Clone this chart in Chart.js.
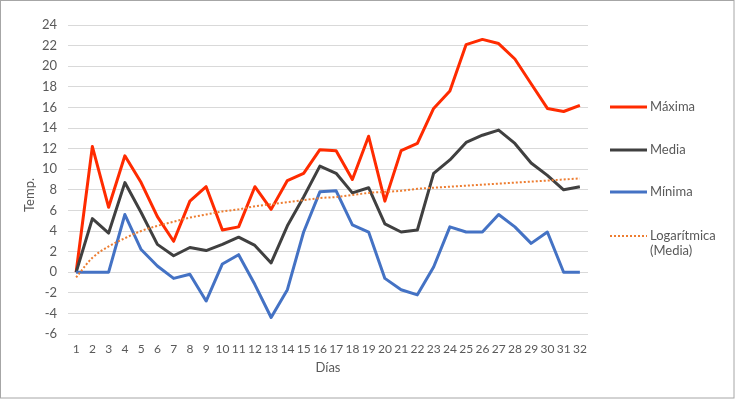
<!DOCTYPE html>
<html>
<head>
<meta charset="utf-8">
<script src="https://cdn.jsdelivr.net/npm/chart.js@4/dist/chart.umd.min.js"></script>
<style>
  html, body { margin: 0; padding: 0; background: #ffffff; }
  #wrap { width: 735px; height: 399px; position: relative; }
</style>
</head>
<body>
<div id="wrap"><canvas id="c" width="735" height="399"></canvas></div>
<script>
const dias = ['1','2','3','4','5','6','7','8','9','10','11','12','13','14','15','16','17','18','19','20','21','22','23','24','25','26','27','28','29','30','31','32'];
const maxima = [0, 12.2, 6.3, 11.3, 8.7, 5.4, 3.0, 6.9, 8.3, 4.1, 4.4, 8.3, 6.1, 8.9, 9.6, 11.9, 11.8, 9.0, 13.2, 6.9, 11.8, 12.5, 15.9, 17.6, 22.1, 22.6, 22.2, 20.7, 18.3, 15.9, 15.6, 16.2];
const media = [0, 5.2, 3.8, 8.7, 5.8, 2.7, 1.6, 2.4, 2.1, 2.7, 3.4, 2.6, 0.9, 4.5, 7.3, 10.3, 9.6, 7.7, 8.2, 4.7, 3.9, 4.1, 9.6, 10.9, 12.6, 13.3, 13.8, 12.5, 10.6, 9.4, 8.0, 8.3];
const minima = [0, 0, 0, 5.6, 2.2, 0.6, -0.6, -0.2, -2.8, 0.8, 1.7, -1.2, -4.4, -1.7, 3.9, 7.8, 7.9, 4.6, 3.9, -0.6, -1.7, -2.2, 0.5, 4.4, 3.9, 3.9, 5.6, 4.4, 2.8, 3.9, 0, 0];
const tendencia = [-0.5, 1.4, 2.5, 3.3, 4.0, 4.5, 4.9, 5.3, 5.6, 5.9, 6.1, 6.4, 6.6, 6.8, 7.0, 7.2, 7.3, 7.5, 7.7, 7.8, 7.9, 8.1, 8.2, 8.3, 8.4, 8.5, 8.6, 8.7, 8.8, 8.9, 9.0, 9.1];
const yTicks = { min: -6, max: 24, step: 2 };
const textos = { y: 'Temp.', x: 'Días' };

const FONT = 'Lato, "Liberation Sans", sans-serif';
const FS = 13;
const TXT = '#595959';

const extras = {
  id: 'extras',
  afterDraw(chart) {
    const ctx = chart.ctx;
    ctx.save();
    // outer border
    ctx.strokeStyle = '#a6a6a6';
    ctx.lineWidth = 1;
    ctx.strokeRect(0.5, 0.5, 733.5, 397.5);
    // y axis title
    ctx.fillStyle = TXT;
    ctx.font = FS + 'px ' + FONT;
    ctx.textAlign = 'center';
    ctx.textBaseline = 'middle';
    ctx.translate(30, 195);
    ctx.rotate(-Math.PI / 2);
    ctx.fillText(textos.y, 0, 0);
    ctx.restore();

    // legend
    ctx.save();
    const ys = [107, 150, 192, 236];
    chart.data.datasets.forEach((ds, i) => {
      const y = ys[i];
      ctx.beginPath();
      ctx.strokeStyle = ds.borderColor;
      ctx.lineWidth = ds.borderWidth;
      ctx.setLineDash(ds.borderDash || []);
      ctx.moveTo(610, y);
      ctx.lineTo(647, y);
      ctx.stroke();
      ctx.setLineDash([]);
      ctx.fillStyle = TXT;
      ctx.font = FS + 'px ' + FONT;
      ctx.textAlign = 'left';
      ctx.textBaseline = 'middle';
      const words = ds.label.split(' ');
      if (words.length > 1) {
        words.forEach((w, k) => ctx.fillText(w, 650, y + k * 15));
      } else {
        ctx.fillText(ds.label, 650, y);
      }
    });
    ctx.restore();
  }
};

new Chart(document.getElementById('c'), {
  type: 'line',
  data: {
    labels: dias,
    datasets: [
      { label: 'Máxima', data: maxima, borderColor: '#ff2b00', backgroundColor: '#ff2b00', borderWidth: 3, pointRadius: 0, tension: 0, order: 4, borderJoinStyle: 'round' },
      { label: 'Media', data: media, borderColor: '#404040', backgroundColor: '#404040', borderWidth: 3, pointRadius: 0, tension: 0, order: 3, borderJoinStyle: 'round' },
      { label: 'Mínima', data: minima, borderColor: '#4472c4', backgroundColor: '#4472c4', borderWidth: 3, pointRadius: 0, tension: 0, order: 2, borderJoinStyle: 'round' },
      { label: 'Logarítmica (Media)', data: tendencia, borderColor: '#ed7d31', backgroundColor: '#ed7d31', borderWidth: 2, borderDash: [2, 2], pointRadius: 0, cubicInterpolationMode: 'monotone', order: 1 }
    ]
  },
  options: {
    responsive: false,
    animation: false,
    layout: { padding: { top: 25, right: 147, left: 0, bottom: 0 } },
    plugins: { legend: { display: false }, tooltip: { enabled: false } },
    scales: {
      x: {
        offset: true,
        grid: { display: false, drawTicks: false },
        border: { display: false },
        ticks: { color: TXT, font: { family: FONT, size: 12 }, padding: 8, maxRotation: 0, autoSkip: false },
        title: { display: true, text: textos.x, color: TXT, font: { family: FONT, size: FS }, padding: { top: 0, bottom: 23 } },
        afterFit: s => { s.height = 65; }
      },
      y: {
        min: yTicks.min,
        max: yTicks.max,
        grid: { color: '#d9d9d9', lineWidth: 1, drawTicks: false },
        border: { display: false },
        ticks: { stepSize: yTicks.step, color: TXT, font: { family: FONT, size: FS }, padding: 11 },
        afterFit: s => { s.width = 68; }
      }
    }
  },
  plugins: [extras]
});
</script>
</body>
</html>
